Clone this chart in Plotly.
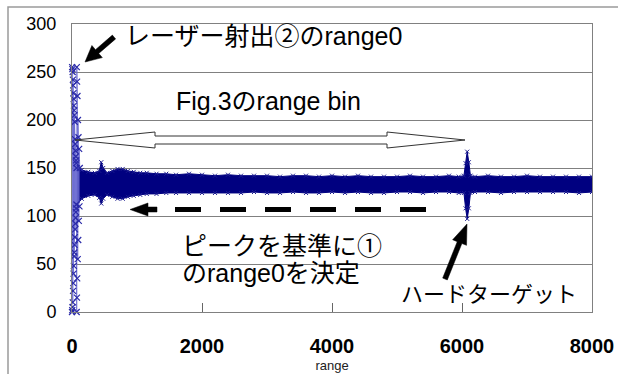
import math
import plotly.graph_objects as go

# ---------------- data ----------------
# laser-emission spike near range 0 (individual samples)
spike_x = [0, 2, 4, 6, 8, 10, 12, 14, 16, 18, 20, 22, 24, 26, 28, 30, 32, 34, 36, 38,
           40, 42, 44, 46, 48, 50, 52, 54, 56, 58, 60, 62, 64, 66, 68, 70, 72, 74, 76, 78,
           80, 84, 88, 92, 96, 100, 105, 110, 115, 120]
spike_y = [0, 255, 2, 253, 5, 250, 10, 242, 22, 236, 30, 228, 40, 222, 48, 215, 58, 210, 62, 205,
           70, 198, 78, 180, 86, 175, 92, 168, 98, 162, 104, 158, 108, 155, 112, 150, 0, 255, 15, 240,
           35, 225, 55, 200, 75, 182, 95, 170, 110, 150]

# envelope of the dense received-signal band
band_x = [80, 150, 250, 350, 420, 450, 480, 540, 620, 700, 780, 860, 950, 1050, 1150, 1300,
          1450, 1600, 1800, 2000, 2200, 2400, 2600, 2800, 3000, 3200, 3400, 3600, 3800, 4000,
          4200, 4400, 4600, 4800, 5000, 5200, 5400, 5600, 5800, 5950, 6030, 6055, 6080, 6105,
          6130, 6200, 6400, 6600, 6800, 7000, 7200, 7400, 7600, 7800, 8000]
band_upper = [155, 148, 146, 145, 147, 156, 150, 145, 147, 149, 149, 147, 146, 145, 145, 144,
              144, 143, 144, 143, 142, 143, 142, 142, 142, 141, 142, 142, 141, 142,
              141, 142, 141, 141, 141, 142, 141, 141, 142, 141, 142, 155, 167, 156,
              142, 141, 142, 141, 141, 142, 141, 141, 141, 141, 141]
band_lower = [112, 118, 121, 122, 119, 113, 118, 122, 120, 118, 118, 120, 121, 122, 123, 123,
              124, 124, 124, 124, 124, 124, 124, 125, 124, 124, 125, 124, 124, 125,
              124, 125, 124, 124, 125, 125, 124, 125, 125, 124, 124, 108, 97, 108,
              124, 125, 125, 124, 125, 125, 125, 125, 125, 124, 125]

x_ticks = [0, 2000, 4000, 6000, 8000]
y_ticks = [0, 50, 100, 150, 200, 250, 300]

# ---------------- layout geometry ----------------
W, H = 618, 374
L, R, T, B = 72, 26, 24, 62
PW, PH = W - L - R, H - T - B   # 520 x 288
XMAX, YMAX = 8000, 300


def X(px):
    return (px - L) / PW * XMAX


def Y(py):
    return (T + PH - py) / PH * YMAX


def path(pts):
    return "M " + " L ".join(f"{X(a):.2f},{Y(b):.3f}" for a, b in pts) + " Z"


def arrow_pts(tail, tip, shaft, hlen, hwid):
    dx, dy = tip[0] - tail[0], tip[1] - tail[1]
    ln = math.hypot(dx, dy)
    ux, uy = dx / ln, dy / ln
    nx, ny = -uy, ux
    bx, by = tip[0] - ux * hlen, tip[1] - uy * hlen
    s, h = shaft / 2, hwid / 2
    return [(tail[0] + nx * s, tail[1] + ny * s), (bx + nx * s, by + ny * s),
            (bx + nx * h, by + ny * h), tip, (bx - nx * h, by - ny * h),
            (bx - nx * s, by - ny * s), (tail[0] - nx * s, tail[1] - ny * s)]


NAVY = "#000080"
fig = go.Figure()

fig.add_trace(go.Scatter(x=band_x, y=band_lower, mode="lines+markers",
                         line=dict(color=NAVY, width=1),
                         marker=dict(symbol="x-thin", size=4, line=dict(color="#1a1a90", width=1)),
                         hoverinfo="skip", showlegend=False))
fig.add_trace(go.Scatter(x=band_x, y=band_upper, mode="lines+markers", fill="tonexty",
                         fillcolor=NAVY, line=dict(color=NAVY, width=1),
                         marker=dict(symbol="x-thin", size=4, line=dict(color="#1a1a90", width=1)),
                         hoverinfo="skip", showlegend=False))
fig.add_trace(go.Scatter(x=spike_x, y=spike_y, mode="lines+markers", cliponaxis=False,
                         line=dict(color="#6a6ad0", width=0.8),
                         marker=dict(symbol="x-thin", size=6, line=dict(color="#2a2aa8", width=1.2)),
                         hoverinfo="skip", showlegend=False))

shapes = []
# outer chart border
shapes.append(dict(type="rect", xref="paper", yref="paper",
                   x0=(8 - L) / PW, x1=(630 - L) / PW,
                   y0=-(390 - T - PH) / PH, y1=(T + PH - 7) / PH,
                   line=dict(color="#9a9a9a", width=1.5), fillcolor="rgba(0,0,0,0)", layer="below"))
# hollow double arrow
shapes.append(dict(type="path", xref="x", yref="y",
                   path=path([(75, 140), (155, 132), (155, 136), (387, 136), (387, 132), (465, 140),
                              (387, 148), (387, 144), (155, 144), (155, 148)]),
                   fillcolor="white", line=dict(color="#333333", width=1)))
# dashed arrow
shapes.append(dict(type="line", xref="x", yref="y", x0=X(175), x1=X(428), y0=Y(209.5), y1=Y(209.5),
                   line=dict(color="black", width=5, dash="26px,19px")))
shapes.append(dict(type="path", xref="x", yref="y",
                   path=path([(130, 209.5), (148, 203), (148, 207), (157, 207), (157, 212),
                              (148, 212), (148, 216)]),
                   fillcolor="black", line=dict(color="black", width=0.5)))
# solid black arrows
shapes.append(dict(type="path", xref="x", yref="y",
                   path=path(arrow_pts((114, 37), (85, 62), 5, 16, 16)),
                   fillcolor="black", line=dict(color="black", width=0.5)))
shapes.append(dict(type="path", xref="x", yref="y",
                   path=path(arrow_pts((445, 279), (467, 224), 5, 20, 15)),
                   fillcolor="black", line=dict(color="black", width=0.5)))

FONT = "Liberation Sans, Arial, Noto Sans CJK JP, sans-serif"
ann = []


def txt(s, px, py, size=25):
    ann.append(dict(text=s, x=X(px), y=Y(py), xref="x", yref="y", xanchor="left", yanchor="middle",
                    showarrow=False, font=dict(family=FONT, size=size, color="black")))


txt("レーザー射出②のrange0", 123, 36)
txt("Fig.3のrange bin", 174, 101)
txt("ピークを基準に①", 180, 246)
txt("のrange0を決定", 180, 273)
txt("ハードターゲット", 399, 294, 22)

fig.update_layout(
    width=W, height=H, margin=dict(l=L, r=R, t=T, b=B, autoexpand=False),
    paper_bgcolor="white", plot_bgcolor="white",
    shapes=shapes, annotations=ann,
    xaxis=dict(range=[0, XMAX], tickvals=x_ticks, ticktext=[str(v) for v in x_ticks],
               showgrid=False, zeroline=False, showline=True, linecolor="#808080", linewidth=1,
               mirror=True, ticks="inside", ticklen=9, tickcolor="#666666",
               tickfont=dict(family="Liberation Sans, Arial", size=20, color="black", weight="bold"),
               ticklabelstandoff=16,
               title=dict(text="range", font=dict(family="Liberation Sans, Arial", size=13, color="#222"),
                          standoff=4)),
    yaxis=dict(range=[0, YMAX], tickvals=y_ticks, showgrid=True, gridcolor="#808080", gridwidth=1,
               zeroline=False, showline=True, linecolor="#808080", linewidth=1, mirror=True,
               ticks="", tickfont=dict(family="Liberation Sans, Arial", size=18, color="black"),
               ticklabelstandoff=11),
)

# remove the default page margin so the 618x374 figure fills the window exactly
fig.write_html("out.html", config={"displayModeBar": False},
               post_script="document.body.style.margin='0';document.body.style.overflow='hidden';")
